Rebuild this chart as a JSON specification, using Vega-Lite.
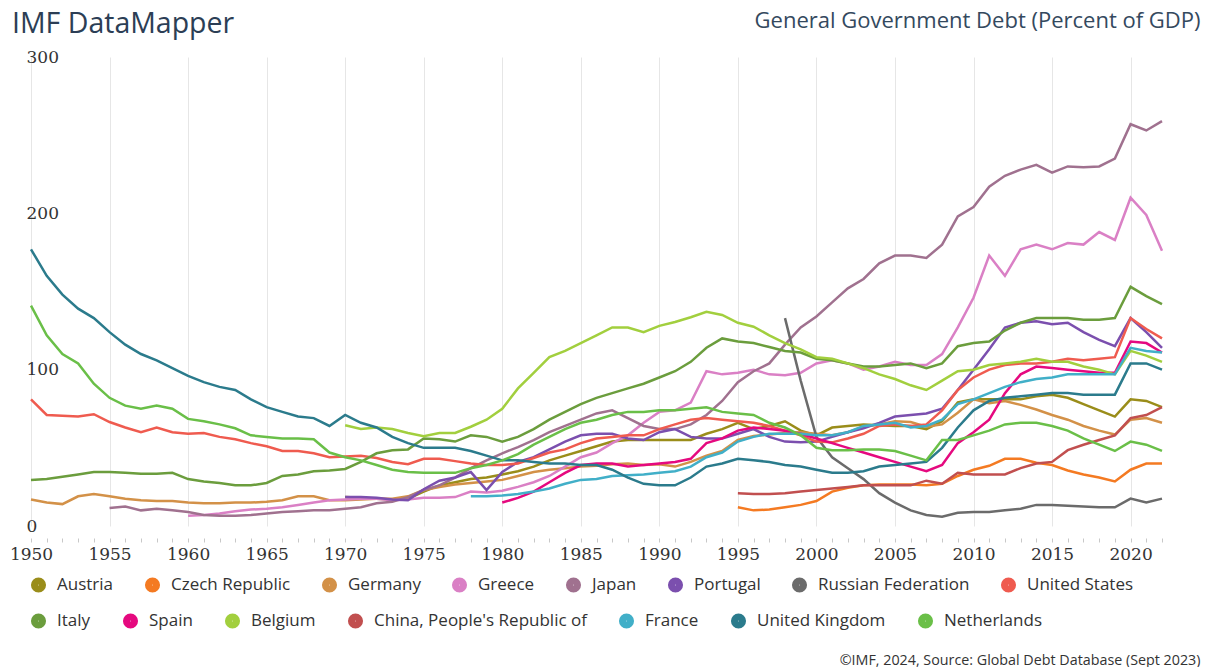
{
"$schema":"https://vega.github.io/schema/vega-lite/v6.json",
"width":1131,"height":469,
"autosize":{"type":"none"},
"padding":{"left":31,"top":57,"right":46,"bottom":141},
"background":"white",
"title":{"text":"IMF DataMapper","anchor":"start","frame":"group","dx":-19,"dy":41,"fontSize":28.5,"font":"Open Sans","fontWeight":"normal","color":"#2c3e55","offset":12},
"config":{"view":{"stroke":null}},
"datasets":{
"aut":[{"year":1970,"debt":18.5},{"year":1971,"debt":18},{"year":1972,"debt":17.5},{"year":1973,"debt":17},{"year":1974,"debt":17.5},{"year":1975,"debt":22},{"year":1976,"debt":26},{"year":1977,"debt":28},{"year":1978,"debt":30},{"year":1979,"debt":31},{"year":1980,"debt":33},{"year":1981,"debt":35},{"year":1982,"debt":38},{"year":1983,"debt":42},{"year":1984,"debt":45},{"year":1985,"debt":48},{"year":1986,"debt":51},{"year":1987,"debt":54},{"year":1988,"debt":55},{"year":1989,"debt":55},{"year":1990,"debt":55},{"year":1991,"debt":55},{"year":1992,"debt":55},{"year":1993,"debt":59},{"year":1994,"debt":62},{"year":1995,"debt":66},{"year":1996,"debt":62},{"year":1997,"debt":64},{"year":1998,"debt":67},{"year":1999,"debt":61},{"year":2000,"debt":58},{"year":2001,"debt":63},{"year":2002,"debt":64},{"year":2003,"debt":65},{"year":2004,"debt":64.5},{"year":2005,"debt":64},{"year":2006,"debt":64},{"year":2007,"debt":62},{"year":2008,"debt":67},{"year":2009,"debt":79},{"year":2010,"debt":81},{"year":2011,"debt":81},{"year":2012,"debt":81},{"year":2013,"debt":81},{"year":2014,"debt":83},{"year":2015,"debt":84},{"year":2016,"debt":82},{"year":2017,"debt":78},{"year":2018,"debt":74},{"year":2019,"debt":70},{"year":2020,"debt":81},{"year":2021,"debt":80},{"year":2022,"debt":76}],
"cze":[{"year":1995,"debt":12},{"year":1996,"debt":10},{"year":1997,"debt":10.5},{"year":1998,"debt":12},{"year":1999,"debt":13.5},{"year":2000,"debt":16},{"year":2001,"debt":22},{"year":2002,"debt":24.5},{"year":2003,"debt":26},{"year":2004,"debt":26.5},{"year":2005,"debt":26.5},{"year":2006,"debt":26.5},{"year":2007,"debt":26},{"year":2008,"debt":27},{"year":2009,"debt":32},{"year":2010,"debt":36},{"year":2011,"debt":38.5},{"year":2012,"debt":43},{"year":2013,"debt":43},{"year":2014,"debt":40.5},{"year":2015,"debt":39},{"year":2016,"debt":35.5},{"year":2017,"debt":33},{"year":2018,"debt":31},{"year":2019,"debt":28.5},{"year":2020,"debt":36},{"year":2021,"debt":40},{"year":2022,"debt":40}],
"deu":[{"year":1950,"debt":17},{"year":1951,"debt":15},{"year":1952,"debt":14},{"year":1953,"debt":19},{"year":1954,"debt":20.5},{"year":1955,"debt":19},{"year":1956,"debt":17.5},{"year":1957,"debt":16.5},{"year":1958,"debt":16},{"year":1959,"debt":16},{"year":1960,"debt":15},{"year":1961,"debt":14.5},{"year":1962,"debt":14.5},{"year":1963,"debt":15},{"year":1964,"debt":15},{"year":1965,"debt":15.5},{"year":1966,"debt":16.5},{"year":1967,"debt":19},{"year":1968,"debt":19},{"year":1969,"debt":16.5},{"year":1970,"debt":16.5},{"year":1971,"debt":17},{"year":1972,"debt":17.5},{"year":1973,"debt":17.5},{"year":1974,"debt":19},{"year":1975,"debt":23},{"year":1976,"debt":25},{"year":1977,"debt":26.5},{"year":1978,"debt":27.5},{"year":1979,"debt":28.5},{"year":1980,"debt":29.5},{"year":1981,"debt":32},{"year":1982,"debt":34.5},{"year":1983,"debt":36},{"year":1984,"debt":37},{"year":1985,"debt":38},{"year":1986,"debt":38.5},{"year":1987,"debt":39.5},{"year":1988,"debt":40},{"year":1989,"debt":39},{"year":1990,"debt":39.5},{"year":1991,"debt":38},{"year":1992,"debt":41},{"year":1993,"debt":45},{"year":1994,"debt":48},{"year":1995,"debt":55},{"year":1996,"debt":57.5},{"year":1997,"debt":58.5},{"year":1998,"debt":59.5},{"year":1999,"debt":60},{"year":2000,"debt":59},{"year":2001,"debt":58},{"year":2002,"debt":60},{"year":2003,"debt":63.5},{"year":2004,"debt":65},{"year":2005,"debt":67},{"year":2006,"debt":66.5},{"year":2007,"debt":63.5},{"year":2008,"debt":65},{"year":2009,"debt":72.5},{"year":2010,"debt":81},{"year":2011,"debt":78.5},{"year":2012,"debt":80},{"year":2013,"debt":77.5},{"year":2014,"debt":74.5},{"year":2015,"debt":71},{"year":2016,"debt":68},{"year":2017,"debt":64},{"year":2018,"debt":61},{"year":2019,"debt":58.5},{"year":2020,"debt":68},{"year":2021,"debt":69},{"year":2022,"debt":66}],
"grc":[{"year":1960,"debt":6.5},{"year":1961,"debt":7},{"year":1962,"debt":8},{"year":1963,"debt":9.5},{"year":1964,"debt":10.5},{"year":1965,"debt":11},{"year":1966,"debt":12},{"year":1967,"debt":13.5},{"year":1968,"debt":15},{"year":1969,"debt":16.5},{"year":1970,"debt":17},{"year":1971,"debt":17.5},{"year":1972,"debt":17.5},{"year":1973,"debt":16.5},{"year":1974,"debt":17},{"year":1975,"debt":18},{"year":1976,"debt":18},{"year":1977,"debt":18.5},{"year":1978,"debt":22},{"year":1979,"debt":21.5},{"year":1980,"debt":22.5},{"year":1981,"debt":25},{"year":1982,"debt":28},{"year":1983,"debt":32},{"year":1984,"debt":38},{"year":1985,"debt":44},{"year":1986,"debt":47},{"year":1987,"debt":53},{"year":1988,"debt":58},{"year":1989,"debt":66},{"year":1990,"debt":73},{"year":1991,"debt":74},{"year":1992,"debt":79},{"year":1993,"debt":99},{"year":1994,"debt":97},{"year":1995,"debt":98},{"year":1996,"debt":100},{"year":1997,"debt":97},{"year":1998,"debt":96.5},{"year":1999,"debt":98},{"year":2000,"debt":104},{"year":2001,"debt":106},{"year":2002,"debt":104},{"year":2003,"debt":100},{"year":2004,"debt":102},{"year":2005,"debt":105},{"year":2006,"debt":103},{"year":2007,"debt":103},{"year":2008,"debt":110},{"year":2009,"debt":127},{"year":2010,"debt":146},{"year":2011,"debt":173},{"year":2012,"debt":160},{"year":2013,"debt":177},{"year":2014,"debt":180},{"year":2015,"debt":177},{"year":2016,"debt":181},{"year":2017,"debt":180},{"year":2018,"debt":188},{"year":2019,"debt":183},{"year":2020,"debt":210},{"year":2021,"debt":199},{"year":2022,"debt":176}],
"jpn":[{"year":1955,"debt":11.5},{"year":1956,"debt":12.5},{"year":1957,"debt":10},{"year":1958,"debt":11},{"year":1959,"debt":10},{"year":1960,"debt":9},{"year":1961,"debt":7},{"year":1962,"debt":6.5},{"year":1963,"debt":6.5},{"year":1964,"debt":7},{"year":1965,"debt":8},{"year":1966,"debt":9},{"year":1967,"debt":9.5},{"year":1968,"debt":10},{"year":1969,"debt":10},{"year":1970,"debt":11},{"year":1971,"debt":12},{"year":1972,"debt":14.5},{"year":1973,"debt":15.5},{"year":1974,"debt":18.5},{"year":1975,"debt":23},{"year":1976,"debt":26},{"year":1977,"debt":31},{"year":1978,"debt":37},{"year":1979,"debt":42},{"year":1980,"debt":46.5},{"year":1981,"debt":50.5},{"year":1982,"debt":55},{"year":1983,"debt":60},{"year":1984,"debt":64},{"year":1985,"debt":68},{"year":1986,"debt":72},{"year":1987,"debt":74},{"year":1988,"debt":69},{"year":1989,"debt":64},{"year":1990,"debt":62},{"year":1991,"debt":62},{"year":1992,"debt":65},{"year":1993,"debt":71},{"year":1994,"debt":80},{"year":1995,"debt":92},{"year":1996,"debt":99},{"year":1997,"debt":104},{"year":1998,"debt":116},{"year":1999,"debt":127},{"year":2000,"debt":134},{"year":2001,"debt":143},{"year":2002,"debt":152},{"year":2003,"debt":158},{"year":2004,"debt":168},{"year":2005,"debt":173},{"year":2006,"debt":173},{"year":2007,"debt":171.5},{"year":2008,"debt":180},{"year":2009,"debt":198},{"year":2010,"debt":204},{"year":2011,"debt":217},{"year":2012,"debt":224},{"year":2013,"debt":228},{"year":2014,"debt":231},{"year":2015,"debt":226},{"year":2016,"debt":230},{"year":2017,"debt":229.5},{"year":2018,"debt":230},{"year":2019,"debt":235},{"year":2020,"debt":257},{"year":2021,"debt":253},{"year":2022,"debt":259}],
"prt":[{"year":1970,"debt":18.5},{"year":1971,"debt":18.5},{"year":1972,"debt":18},{"year":1973,"debt":17},{"year":1974,"debt":16.5},{"year":1975,"debt":23.5},{"year":1976,"debt":29},{"year":1977,"debt":31},{"year":1978,"debt":34.5},{"year":1979,"debt":23},{"year":1980,"debt":34.5},{"year":1981,"debt":41},{"year":1982,"debt":44},{"year":1983,"debt":49},{"year":1984,"debt":54},{"year":1985,"debt":58},{"year":1986,"debt":59},{"year":1987,"debt":59},{"year":1988,"debt":56},{"year":1989,"debt":55},{"year":1990,"debt":60},{"year":1991,"debt":62},{"year":1992,"debt":57},{"year":1993,"debt":56},{"year":1994,"debt":56},{"year":1995,"debt":59},{"year":1996,"debt":62},{"year":1997,"debt":57},{"year":1998,"debt":54},{"year":1999,"debt":53.5},{"year":2000,"debt":54},{"year":2001,"debt":57},{"year":2002,"debt":60},{"year":2003,"debt":62.5},{"year":2004,"debt":66},{"year":2005,"debt":70},{"year":2006,"debt":71},{"year":2007,"debt":72},{"year":2008,"debt":75},{"year":2009,"debt":87},{"year":2010,"debt":100},{"year":2011,"debt":113},{"year":2012,"debt":127},{"year":2013,"debt":130},{"year":2014,"debt":131},{"year":2015,"debt":129},{"year":2016,"debt":130},{"year":2017,"debt":124},{"year":2018,"debt":119},{"year":2019,"debt":115},{"year":2020,"debt":133},{"year":2021,"debt":124},{"year":2022,"debt":114}],
"rus":[{"year":1998,"debt":133},{"year":1999,"debt":93},{"year":2000,"debt":57},{"year":2001,"debt":44},{"year":2002,"debt":37},{"year":2003,"debt":30},{"year":2004,"debt":21},{"year":2005,"debt":15},{"year":2006,"debt":10},{"year":2007,"debt":7},{"year":2008,"debt":6},{"year":2009,"debt":8.5},{"year":2010,"debt":9},{"year":2011,"debt":9},{"year":2012,"debt":10},{"year":2013,"debt":11},{"year":2014,"debt":13.5},{"year":2015,"debt":13.5},{"year":2016,"debt":13},{"year":2017,"debt":12.5},{"year":2018,"debt":12},{"year":2019,"debt":12},{"year":2020,"debt":17.5},{"year":2021,"debt":15},{"year":2022,"debt":17.5}],
"usa":[{"year":1950,"debt":81},{"year":1951,"debt":71},{"year":1952,"debt":70.5},{"year":1953,"debt":70},{"year":1954,"debt":71.5},{"year":1955,"debt":66.5},{"year":1956,"debt":63},{"year":1957,"debt":60},{"year":1958,"debt":63},{"year":1959,"debt":60},{"year":1960,"debt":59},{"year":1961,"debt":59.5},{"year":1962,"debt":57},{"year":1963,"debt":55.5},{"year":1964,"debt":53},{"year":1965,"debt":51},{"year":1966,"debt":48},{"year":1967,"debt":48},{"year":1968,"debt":46.5},{"year":1969,"debt":44},{"year":1970,"debt":44.5},{"year":1971,"debt":45},{"year":1972,"debt":43.5},{"year":1973,"debt":41},{"year":1974,"debt":39.5},{"year":1975,"debt":43},{"year":1976,"debt":43},{"year":1977,"debt":41.5},{"year":1978,"debt":40},{"year":1979,"debt":39},{"year":1980,"debt":39},{"year":1981,"debt":40},{"year":1982,"debt":43.5},{"year":1983,"debt":47},{"year":1984,"debt":49},{"year":1985,"debt":53},{"year":1986,"debt":56},{"year":1987,"debt":57},{"year":1988,"debt":58},{"year":1989,"debt":58},{"year":1990,"debt":62},{"year":1991,"debt":65},{"year":1992,"debt":68},{"year":1993,"debt":69},{"year":1994,"debt":68},{"year":1995,"debt":67},{"year":1996,"debt":66},{"year":1997,"debt":64},{"year":1998,"debt":61},{"year":1999,"debt":58},{"year":2000,"debt":54},{"year":2001,"debt":53.5},{"year":2002,"debt":56},{"year":2003,"debt":59},{"year":2004,"debt":64},{"year":2005,"debt":65},{"year":2006,"debt":64},{"year":2007,"debt":65},{"year":2008,"debt":74},{"year":2009,"debt":87},{"year":2010,"debt":95},{"year":2011,"debt":100},{"year":2012,"debt":103},{"year":2013,"debt":104},{"year":2014,"debt":104},{"year":2015,"debt":105},{"year":2016,"debt":107},{"year":2017,"debt":106},{"year":2018,"debt":107},{"year":2019,"debt":108},{"year":2020,"debt":133},{"year":2021,"debt":126},{"year":2022,"debt":120}],
"ita":[{"year":1950,"debt":29.5},{"year":1951,"debt":30},{"year":1952,"debt":31.5},{"year":1953,"debt":33},{"year":1954,"debt":34.5},{"year":1955,"debt":34.5},{"year":1956,"debt":34},{"year":1957,"debt":33.5},{"year":1958,"debt":33.5},{"year":1959,"debt":34},{"year":1960,"debt":30},{"year":1961,"debt":28.5},{"year":1962,"debt":27.5},{"year":1963,"debt":26},{"year":1964,"debt":26},{"year":1965,"debt":27.5},{"year":1966,"debt":32},{"year":1967,"debt":33},{"year":1968,"debt":35},{"year":1969,"debt":35.5},{"year":1970,"debt":36.5},{"year":1971,"debt":41},{"year":1972,"debt":46.5},{"year":1973,"debt":48.5},{"year":1974,"debt":49},{"year":1975,"debt":56},{"year":1976,"debt":55.5},{"year":1977,"debt":54},{"year":1978,"debt":58},{"year":1979,"debt":57},{"year":1980,"debt":54},{"year":1981,"debt":57},{"year":1982,"debt":62},{"year":1983,"debt":68},{"year":1984,"debt":73},{"year":1985,"debt":78},{"year":1986,"debt":82},{"year":1987,"debt":85},{"year":1988,"debt":88},{"year":1989,"debt":91},{"year":1990,"debt":95},{"year":1991,"debt":99},{"year":1992,"debt":105},{"year":1993,"debt":114},{"year":1994,"debt":120},{"year":1995,"debt":118},{"year":1996,"debt":117},{"year":1997,"debt":114.5},{"year":1998,"debt":112},{"year":1999,"debt":111},{"year":2000,"debt":107},{"year":2001,"debt":106},{"year":2002,"debt":104},{"year":2003,"debt":102},{"year":2004,"debt":102},{"year":2005,"debt":103},{"year":2006,"debt":104},{"year":2007,"debt":101},{"year":2008,"debt":104},{"year":2009,"debt":115},{"year":2010,"debt":117},{"year":2011,"debt":118},{"year":2012,"debt":125},{"year":2013,"debt":130},{"year":2014,"debt":133},{"year":2015,"debt":133},{"year":2016,"debt":133},{"year":2017,"debt":132},{"year":2018,"debt":132},{"year":2019,"debt":133},{"year":2020,"debt":153},{"year":2021,"debt":147},{"year":2022,"debt":142}],
"esp":[{"year":1980,"debt":15},{"year":1981,"debt":18},{"year":1982,"debt":22},{"year":1983,"debt":28},{"year":1984,"debt":34},{"year":1985,"debt":39},{"year":1986,"debt":40},{"year":1987,"debt":40},{"year":1988,"debt":38},{"year":1989,"debt":39},{"year":1990,"debt":40},{"year":1991,"debt":41},{"year":1992,"debt":43},{"year":1993,"debt":53},{"year":1994,"debt":56},{"year":1995,"debt":61},{"year":1996,"debt":63},{"year":1997,"debt":62},{"year":1998,"debt":61},{"year":1999,"debt":59},{"year":2000,"debt":56},{"year":2001,"debt":53},{"year":2002,"debt":50},{"year":2003,"debt":47},{"year":2004,"debt":44},{"year":2005,"debt":41},{"year":2006,"debt":38},{"year":2007,"debt":35},{"year":2008,"debt":39},{"year":2009,"debt":53},{"year":2010,"debt":60},{"year":2011,"debt":68},{"year":2012,"debt":85},{"year":2013,"debt":97},{"year":2014,"debt":102},{"year":2015,"debt":101},{"year":2016,"debt":100},{"year":2017,"debt":99},{"year":2018,"debt":98},{"year":2019,"debt":98},{"year":2020,"debt":118},{"year":2021,"debt":117},{"year":2022,"debt":111}],
"bel":[{"year":1970,"debt":64.5},{"year":1971,"debt":62},{"year":1972,"debt":63},{"year":1973,"debt":62},{"year":1974,"debt":59.5},{"year":1975,"debt":57.5},{"year":1976,"debt":59.5},{"year":1977,"debt":59.5},{"year":1978,"debt":63.5},{"year":1979,"debt":68},{"year":1980,"debt":75},{"year":1981,"debt":88},{"year":1982,"debt":98},{"year":1983,"debt":108},{"year":1984,"debt":112},{"year":1985,"debt":117},{"year":1986,"debt":122},{"year":1987,"debt":127},{"year":1988,"debt":127},{"year":1989,"debt":124},{"year":1990,"debt":128},{"year":1991,"debt":130.5},{"year":1992,"debt":133.5},{"year":1993,"debt":137},{"year":1994,"debt":135},{"year":1995,"debt":130},{"year":1996,"debt":127.5},{"year":1997,"debt":122},{"year":1998,"debt":117},{"year":1999,"debt":113},{"year":2000,"debt":108},{"year":2001,"debt":107},{"year":2002,"debt":104},{"year":2003,"debt":101},{"year":2004,"debt":97},{"year":2005,"debt":94},{"year":2006,"debt":90},{"year":2007,"debt":87},{"year":2008,"debt":93},{"year":2009,"debt":99},{"year":2010,"debt":100},{"year":2011,"debt":103},{"year":2012,"debt":104},{"year":2013,"debt":105},{"year":2014,"debt":107},{"year":2015,"debt":105},{"year":2016,"debt":105},{"year":2017,"debt":102},{"year":2018,"debt":100},{"year":2019,"debt":97},{"year":2020,"debt":112},{"year":2021,"debt":109},{"year":2022,"debt":105}],
"chn":[{"year":1995,"debt":21},{"year":1996,"debt":20.5},{"year":1997,"debt":20.5},{"year":1998,"debt":21},{"year":1999,"debt":22},{"year":2000,"debt":23},{"year":2001,"debt":24},{"year":2002,"debt":25},{"year":2003,"debt":26},{"year":2004,"debt":26},{"year":2005,"debt":26},{"year":2006,"debt":26},{"year":2007,"debt":29},{"year":2008,"debt":27},{"year":2009,"debt":34},{"year":2010,"debt":33},{"year":2011,"debt":33},{"year":2012,"debt":33},{"year":2013,"debt":37},{"year":2014,"debt":40},{"year":2015,"debt":41},{"year":2016,"debt":48.5},{"year":2017,"debt":52},{"year":2018,"debt":55},{"year":2019,"debt":58},{"year":2020,"debt":69},{"year":2021,"debt":71},{"year":2022,"debt":76}],
"fra":[{"year":1978,"debt":19},{"year":1979,"debt":19},{"year":1980,"debt":19.5},{"year":1981,"debt":20.5},{"year":1982,"debt":22},{"year":1983,"debt":24},{"year":1984,"debt":27},{"year":1985,"debt":29.5},{"year":1986,"debt":30},{"year":1987,"debt":32},{"year":1988,"debt":32.5},{"year":1989,"debt":33},{"year":1990,"debt":34},{"year":1991,"debt":35},{"year":1992,"debt":38},{"year":1993,"debt":44},{"year":1994,"debt":47},{"year":1995,"debt":54},{"year":1996,"debt":57},{"year":1997,"debt":59},{"year":1998,"debt":59},{"year":1999,"debt":59},{"year":2000,"debt":58},{"year":2001,"debt":58},{"year":2002,"debt":60},{"year":2003,"debt":64},{"year":2004,"debt":65},{"year":2005,"debt":66},{"year":2006,"debt":63},{"year":2007,"debt":64},{"year":2008,"debt":68},{"year":2009,"debt":78},{"year":2010,"debt":81},{"year":2011,"debt":85},{"year":2012,"debt":89},{"year":2013,"debt":92},{"year":2014,"debt":94},{"year":2015,"debt":95},{"year":2016,"debt":97},{"year":2017,"debt":97},{"year":2018,"debt":97},{"year":2019,"debt":97},{"year":2020,"debt":114},{"year":2021,"debt":112},{"year":2022,"debt":111}],
"gbr":[{"year":1950,"debt":177},{"year":1951,"debt":160},{"year":1952,"debt":148},{"year":1953,"debt":139},{"year":1954,"debt":133},{"year":1955,"debt":124},{"year":1956,"debt":116},{"year":1957,"debt":110},{"year":1958,"debt":106},{"year":1959,"debt":101},{"year":1960,"debt":96},{"year":1961,"debt":92},{"year":1962,"debt":89},{"year":1963,"debt":87},{"year":1964,"debt":81},{"year":1965,"debt":76},{"year":1966,"debt":73},{"year":1967,"debt":70},{"year":1968,"debt":69},{"year":1969,"debt":64},{"year":1970,"debt":71},{"year":1971,"debt":66},{"year":1972,"debt":63},{"year":1973,"debt":57},{"year":1974,"debt":53},{"year":1975,"debt":50},{"year":1976,"debt":50},{"year":1977,"debt":50},{"year":1978,"debt":48},{"year":1979,"debt":45},{"year":1980,"debt":42},{"year":1981,"debt":42},{"year":1982,"debt":41},{"year":1983,"debt":40},{"year":1984,"debt":40},{"year":1985,"debt":39},{"year":1986,"debt":39},{"year":1987,"debt":36},{"year":1988,"debt":31},{"year":1989,"debt":27},{"year":1990,"debt":26},{"year":1991,"debt":26},{"year":1992,"debt":31},{"year":1993,"debt":38},{"year":1994,"debt":40},{"year":1995,"debt":43},{"year":1996,"debt":42},{"year":1997,"debt":41},{"year":1998,"debt":39},{"year":1999,"debt":38},{"year":2000,"debt":36},{"year":2001,"debt":34},{"year":2002,"debt":34},{"year":2003,"debt":35},{"year":2004,"debt":38},{"year":2005,"debt":39},{"year":2006,"debt":40},{"year":2007,"debt":41},{"year":2008,"debt":50},{"year":2009,"debt":63},{"year":2010,"debt":74},{"year":2011,"debt":80},{"year":2012,"debt":82},{"year":2013,"debt":83},{"year":2014,"debt":84},{"year":2015,"debt":85},{"year":2016,"debt":85},{"year":2017,"debt":84},{"year":2018,"debt":84},{"year":2019,"debt":84},{"year":2020,"debt":104},{"year":2021,"debt":104},{"year":2022,"debt":100}],
"nld":[{"year":1950,"debt":141},{"year":1951,"debt":122},{"year":1952,"debt":110},{"year":1953,"debt":104},{"year":1954,"debt":91},{"year":1955,"debt":82},{"year":1956,"debt":77},{"year":1957,"debt":75},{"year":1958,"debt":77},{"year":1959,"debt":75},{"year":1960,"debt":68.5},{"year":1961,"debt":67},{"year":1962,"debt":65},{"year":1963,"debt":62.5},{"year":1964,"debt":58},{"year":1965,"debt":57},{"year":1966,"debt":56},{"year":1967,"debt":56},{"year":1968,"debt":55.5},{"year":1969,"debt":47},{"year":1970,"debt":44},{"year":1971,"debt":42},{"year":1972,"debt":39},{"year":1973,"debt":36},{"year":1974,"debt":34.5},{"year":1975,"debt":34},{"year":1976,"debt":34},{"year":1977,"debt":34},{"year":1978,"debt":37},{"year":1979,"debt":39},{"year":1980,"debt":42},{"year":1981,"debt":46},{"year":1982,"debt":52},{"year":1983,"debt":57},{"year":1984,"debt":62},{"year":1985,"debt":66},{"year":1986,"debt":68},{"year":1987,"debt":71},{"year":1988,"debt":73},{"year":1989,"debt":73},{"year":1990,"debt":74},{"year":1991,"debt":74},{"year":1992,"debt":75},{"year":1993,"debt":76},{"year":1994,"debt":73},{"year":1995,"debt":72},{"year":1996,"debt":71},{"year":1997,"debt":66},{"year":1998,"debt":63},{"year":1999,"debt":58},{"year":2000,"debt":50},{"year":2001,"debt":48.5},{"year":2002,"debt":48.5},{"year":2003,"debt":49},{"year":2004,"debt":49},{"year":2005,"debt":48},{"year":2006,"debt":45},{"year":2007,"debt":42},{"year":2008,"debt":55},{"year":2009,"debt":55},{"year":2010,"debt":58},{"year":2011,"debt":61},{"year":2012,"debt":65},{"year":2013,"debt":66},{"year":2014,"debt":66},{"year":2015,"debt":64},{"year":2016,"debt":61},{"year":2017,"debt":56},{"year":2018,"debt":52},{"year":2019,"debt":48},{"year":2020,"debt":54},{"year":2021,"debt":52},{"year":2022,"debt":48}]
},
"encoding":{
"x":{"field":"year","type":"quantitative","scale":{"domain":[1950,2022],"nice":false,"zero":false},
"axis":{"values":[1950,1951,1952,1953,1954,1955,1956,1957,1958,1959,1960,1961,1962,1963,1964,1965,1966,1967,1968,1969,1970,1971,1972,1973,1974,1975,1976,1977,1978,1979,1980,1981,1982,1983,1984,1985,1986,1987,1988,1989,1990,1991,1992,1993,1994,1995,1996,1997,1998,1999,2000,2001,2002,2003,2004,2005,2006,2007,2008,2009,2010,2011,2012,2013,2014,2015,2016,2017,2018,2019,2020,2021,2022],
"format":"d","labelExpr":"datum.value % 5 === 0 ? datum.label : ''","labelOverlap":false,"labelFlush":false,"labelFont":"DejaVu Serif","labelFontSize":17,"labelColor":"#333333","labelPadding":4,"offset":12,"domain":false,"ticks":true,"tickSize":4,"tickColor":"#c8c8c8","grid":true,"gridColor":{"condition":{"test":"datum.value % 5 === 0","value":"#e6e6e6"},"value":"transparent"},"gridWidth":1,
"title":"©IMF, 2024, Source: Global Debt Database (Sept 2023)","titleFont":"Open Sans","titleFontSize":14.3,"titleFontWeight":"normal","titleColor":"#333333","titleAlign":"right","titleBaseline":"middle","titleX":1169,"titleY":122}},
"y":{"field":"debt","type":"quantitative","scale":{"domain":[0,300],"nice":false},
"axis":{"values":[0,100,200,300],"grid":false,"domain":false,"ticks":false,"labelAlign":"left","labelBaseline":"middle","labelPadding":5,"labelFont":"DejaVu Serif","labelFontSize":17,"labelColor":"#333333",
"title":"General Government Debt (Percent of GDP)","titleAngle":0,"titleX":1169,"titleY":-37,"titleAlign":"right","titleBaseline":"middle","titleFont":"Open Sans","titleFontSize":22,"titleFontWeight":"normal","titleColor":"#34495e"}},
"strokeWidth":{"value":2.5}
},
"layer":[
{"data":{"name":"aut"},"mark":"line","encoding":{"stroke":{"datum":"Austria","type":"nominal",
"scale":{"domain":["Austria","Czech Republic","Germany","Greece","Japan","Portugal","Russian Federation","United States"],
"range":["#9a8d1a","#f47a22","#d39148","#da80c5","#a0718f","#7b4fae","#6b6b6b","#ef5b4f"]},
"legend":{"orient":"none","legendX":-1,"legendY":519,"direction":"horizontal","title":null,"symbolType":"circle","symbolSize":50,"symbolStrokeWidth":8,"labelFont":"Open Sans","labelFontSize":17,"labelColor":"#333333","labelOffset":10,"columnPadding":18,"labelLimit":400}}}},
{"data":{"name":"cze"},"mark":"line","encoding":{"stroke":{"datum":"Czech Republic","type":"nominal"}}},
{"data":{"name":"deu"},"mark":"line","encoding":{"stroke":{"datum":"Germany","type":"nominal"}}},
{"data":{"name":"grc"},"mark":"line","encoding":{"stroke":{"datum":"Greece","type":"nominal"}}},
{"data":{"name":"jpn"},"mark":"line","encoding":{"stroke":{"datum":"Japan","type":"nominal"}}},
{"data":{"name":"prt"},"mark":"line","encoding":{"stroke":{"datum":"Portugal","type":"nominal"}}},
{"data":{"name":"rus"},"mark":"line","encoding":{"stroke":{"datum":"Russian Federation","type":"nominal"}}},
{"data":{"name":"usa"},"mark":"line","encoding":{"stroke":{"datum":"United States","type":"nominal"}}},
{"data":{"name":"ita"},"mark":"line","encoding":{"color":{"datum":"Italy","type":"nominal",
"scale":{"domain":["Italy","Spain","Belgium","China, People's Republic of","France","United Kingdom","Netherlands"],
"range":["#6b9d3d","#e5097f","#a2cf3e","#c14f4f","#41afc8","#2b7b8c","#6abf48"]},
"legend":{"orient":"none","legendX":-1,"legendY":555,"direction":"horizontal","title":null,"symbolType":"circle","symbolSize":50,"symbolStrokeWidth":8,"labelFont":"Open Sans","labelFontSize":17,"labelColor":"#333333","labelOffset":10,"columnPadding":19,"labelLimit":400}}}},
{"data":{"name":"esp"},"mark":"line","encoding":{"color":{"datum":"Spain","type":"nominal"}}},
{"data":{"name":"bel"},"mark":"line","encoding":{"color":{"datum":"Belgium","type":"nominal"}}},
{"data":{"name":"chn"},"mark":"line","encoding":{"color":{"datum":"China, People's Republic of","type":"nominal"}}},
{"data":{"name":"fra"},"mark":"line","encoding":{"color":{"datum":"France","type":"nominal"}}},
{"data":{"name":"gbr"},"mark":"line","encoding":{"color":{"datum":"United Kingdom","type":"nominal"}}},
{"data":{"name":"nld"},"mark":"line","encoding":{"color":{"datum":"Netherlands","type":"nominal"}}}
]
}
